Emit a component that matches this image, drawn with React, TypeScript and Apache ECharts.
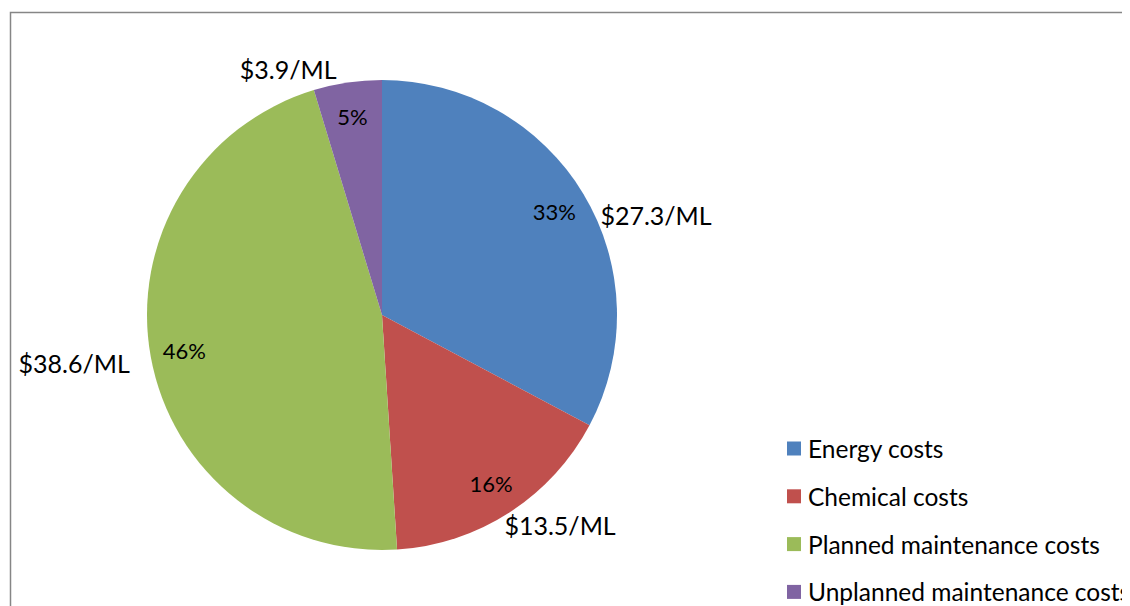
import React, { useEffect, useRef } from "react";
import * as echarts from "echarts";

const categories = [
  "Energy costs",
  "Chemical costs",
  "Planned maintenance costs",
  "Unplanned maintenance costs",
];
const costPerML = [27.3, 13.5, 38.6, 3.9];
const colors = ["#4F81BD", "#C0504D", "#9BBB59", "#8064A2"];

// small placement nudges for the value labels (Excel "best fit" style)
const valueLabelNudge = [
  [0, 21],
  [-22, 13],
  [-4, 6],
  [6, -14],
];

const FONT = "Lato, 'Liberation Sans', sans-serif";

export default function App() {
  const ref = useRef<HTMLDivElement>(null);
  useEffect(() => {
    if (!ref.current) return;
    const chart = echarts.init(ref.current, null, { renderer: "svg" });
    const total = costPerML.reduce((a, b) => a + b, 0);
    const data = categories.map((name, i) => ({
      name,
      value: costPerML[i],
      itemStyle: { color: colors[i] },
    }));
    const center = [374, 307];
    chart.setOption({
      animation: false,
      backgroundColor: "#ffffff",
      graphic: [
        {
          type: "rect",
          shape: { x: 2.5, y: 4.5, width: 1300, height: 700 },
          style: { fill: "none", stroke: "#868686", lineWidth: 1.5 },
          silent: true,
          z: -1,
        },
      ],
      legend: {
        orient: "vertical",
        left: 779,
        top: 428,
        padding: 0,
        data: categories,
        icon: "rect",
        itemWidth: 14,
        itemHeight: 14,
        itemGap: 22.8,
        textStyle: {
          fontFamily: FONT,
          fontSize: 24.5,
          color: "#000",
          lineHeight: 23,
          padding: [0, 0, 0, 2],
        },
        selectedMode: false,
      },
      series: [
        {
          type: "pie",
          center,
          radius: 235,
          startAngle: 90,
          clockwise: true,
          avoidLabelOverlap: false,
          data,
          itemStyle: { borderWidth: 0 },
          label: {
            show: true,
            position: "outside",
            formatter: (p: any) => "$" + p.value + "/ML",
            fontFamily: FONT,
            fontSize: 25,
            color: "#000",
            distanceToLabelLine: 17,
          },
          labelLine: { show: false, length: 0, length2: 0 },
          labelLayout: (p: any) => {
            const n = valueLabelNudge[p.dataIndex] || [0, 0];
            return { dx: n[0], dy: n[1] };
          },
          emphasis: { disabled: true },
        },
        {
          type: "pie",
          center,
          radius: [161, 235],
          startAngle: 90,
          clockwise: true,
          silent: true,
          data: categories.map((name, i) => ({
            name: name + " ",
            value: costPerML[i],
          })),
          itemStyle: { color: "rgba(0,0,0,0)", borderWidth: 0 },
          label: {
            show: true,
            position: "inside",
            formatter: (p: any) =>
              Math.round((p.value / total) * 100) + "%",
            fontFamily: FONT,
            fontSize: 22,
            color: "#000",
          },
          labelLine: { show: false },
          emphasis: { disabled: true },
        },
      ],
    });
    return () => chart.dispose();
  }, []);
  return (
    <div style={{ width: 1122, height: 598, overflow: "hidden" }}>
      <div ref={ref} style={{ width: 1300, height: 700 }} />
    </div>
  );
}
